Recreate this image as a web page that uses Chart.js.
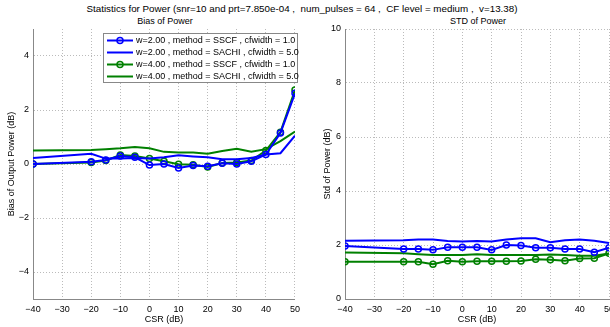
<!DOCTYPE html>
<html>
<head>
<meta charset="utf-8">
<script src="https://cdn.jsdelivr.net/npm/chart.js@4.4.1/dist/chart.umd.min.js"></script>
<style>
body { margin: 0; width: 610px; height: 327px; overflow: hidden; background: #fff; position: relative; font-family: "Liberation Sans", Arial, sans-serif; }
.t { position: absolute; font-size: 9px; color: #000; white-space: pre; transform: translateX(-50%); line-height: 10px; }
canvas { position: absolute; top: 0; }
</style>
</head>
<body>
<div class="t" style="left:302px;top:4px;font-size:9.8px">Statistics for Power (snr=10 and prt=7.850e-04 ,  num_pulses = 64 ,  CF level = medium ,  v=13.38)</div>
<div class="t" style="left:165px;top:16px">Bias of Power</div>
<div class="t" style="left:478px;top:16px">STD of Power</div>
<canvas id="bias" width="305" height="327" style="left:0"></canvas>
<canvas id="std" width="325" height="327" style="left:305px"></canvas>
<script>
// CSR values (dB)
var csr = [-40, -20, -15, -10, -5, 0, 5, 10, 15, 20, 25, 30, 35, 40, 45, 50];

var labels = [
	"w=2.00 , method = SSCF , cfwidth = 1.0",
	"w=2.00 , method = SACHI , cfwidth = 5.0",
	"w=4.00 , method = SSCF , cfwidth = 1.0",
	"w=4.00 , method = SACHI , cfwidth = 5.0"
];

// bias of output power (dB)
var biasSSCF2  = [0.0, 0.08, 0.15, 0.3, 0.25, -0.04, 0.0, -0.15, -0.06, -0.08, 0.03, 0.0, 0.1, 0.35, 1.15, 2.62];
var biasSACHI2 = [0.22, 0.38, 0.2, 0.2, 0.22, 0.2, 0.25, 0.32, 0.28, 0.25, 0.18, 0.18, 0.22, 0.35, 0.4, 1.05];
var biasSSCF4  = [0.0, 0.06, 0.13, 0.33, 0.3, 0.2, 0.1, -0.01, -0.03, -0.11, 0.04, 0.06, 0.13, 0.5, 1.18, 2.74];
var biasSACHI4 = [0.5, 0.52, 0.55, 0.58, 0.63, 0.58, 0.45, 0.43, 0.43, 0.38, 0.48, 0.56, 0.45, 0.55, 0.85, 1.2];

// std of power (dB)
var stdSSCF2  = [1.96, 1.85, 1.85, 1.82, 1.92, 1.92, 1.92, 1.82, 2.0, 1.98, 1.9, 1.9, 1.85, 1.85, 1.73, 1.9];
var stdSACHI2 = [2.16, 2.18, 2.2, 2.2, 2.15, 2.13, 2.15, 2.13, 2.2, 2.25, 2.25, 2.1, 2.18, 2.2, 2.16, 2.07];
var stdSSCF4  = [1.38, 1.38, 1.38, 1.29, 1.42, 1.38, 1.4, 1.4, 1.4, 1.41, 1.47, 1.45, 1.42, 1.5, 1.51, 1.69];
var stdSACHI4 = [1.72, 1.69, 1.66, 1.63, 1.63, 1.63, 1.66, 1.63, 1.63, 1.63, 1.63, 1.65, 1.63, 1.6, 1.6, 1.69];

var xTicks = [-40, -30, -20, -10, 0, 10, 20, 30, 40, 50];
var biasTicks = [-4, -2, 0, 2, 4];
var stdTicks = [0, 2, 4, 6, 8, 10];

var BLUE = "#0000ff";
var GREEN = "#008000";
var FONT = { family: "'Liberation Sans', Arial, sans-serif", size: 9 };

function pts(ys) {
	return csr.map(function(x, i) { return { x: x, y: ys[i] }; });
}

function makeSets(a, b, c, d) {
	var cols = [BLUE, BLUE, GREEN, GREEN];
	return [a, b, c, d].map(function(ys, i) {
		var marker = (i % 2 == 0);
		return {
			label: labels[i],
			data: pts(ys),
			borderColor: cols[i],
			backgroundColor: "rgba(0,0,0,0)",
			borderWidth: 2,
			pointRadius: marker ? 3 : 0,
			pointBorderWidth: 1.5,
			pointBackgroundColor: "rgba(0,0,0,0)",
			tension: 0
		};
	});
}

function minus(v) {
	return String(v).replace("-", "\u2212");
}

// draws the boxed legend in the upper right of the bias plot
var legendBox = {
	id: "legendBox",
	afterDraw: function(chart) {
		if (chart.canvas.id != "bias") return;
		var ctx = chart.ctx;
		var x0 = 103, y0 = 33, w = 194, h = 49;
		ctx.save();
		ctx.fillStyle = "#fff";
		ctx.fillRect(x0, y0, w, h);
		ctx.strokeStyle = "#888";
		ctx.lineWidth = 1;
		ctx.strokeRect(x0 + 0.5, y0 + 0.5, w, h);
		chart.data.datasets.forEach(function(ds, i) {
			var y = y0 + 7.5 + i * 12;
			ctx.strokeStyle = ds.borderColor;
			ctx.lineWidth = 2;
			ctx.beginPath();
			ctx.moveTo(x0 + 4, y);
			ctx.lineTo(x0 + 30, y);
			ctx.stroke();
			if (ds.pointRadius > 0) {
				ctx.lineWidth = 1.5;
				ctx.beginPath();
				ctx.arc(x0 + 17, y, 3, 0, 2 * Math.PI);
				ctx.stroke();
			}
			ctx.fillStyle = "#000";
			ctx.font = "9px 'Liberation Sans', Arial, sans-serif";
			ctx.textBaseline = "middle";
			ctx.fillText(ds.label, x0 + 33, y);
		});
		ctx.restore();
	}
};

function makeChart(id, sets, ymin, ymax, yticks, ytitle, padRight, yWidth, titleGap) {
	var ctx = document.getElementById(id).getContext("2d");
	return new Chart(ctx, {
		type: "line",
		data: { datasets: sets },
		plugins: [legendBox],
		options: {
			responsive: false,
			animation: false,
			layout: { padding: { top: 29, right: padRight, left: 0, bottom: 0 } },
			plugins: { legend: { display: false }, tooltip: { enabled: false } },
			scales: {
				x: {
					type: "linear",
					min: -40,
					max: 50,
					afterBuildTicks: function(s) { s.ticks = xTicks.map(function(v) { return { value: v }; }); },
					afterFit: function(s) { s.height = 28; },
					ticks: { font: FONT, color: "#000", padding: 5, maxRotation: 0, callback: minus },
					grid: { color: "#bbb", drawTicks: false },
					border: { display: true, color: "#888", width: 1, dash: [1, 2] },
					title: { display: true, text: "CSR (dB)", font: FONT, color: "#000", padding: { top: 0, bottom: 2 } }
				},
				y: {
					min: ymin,
					max: ymax,
					afterBuildTicks: function(s) { s.ticks = yticks.map(function(v) { return { value: v }; }); },
					afterFit: function(s) { s.width = yWidth; },
					ticks: { font: FONT, color: "#000", padding: 4, callback: minus },
					grid: { color: "#bbb", drawTicks: false },
					border: { display: true, color: "#888", width: 1, dash: [1, 2] },
					title: { display: true, text: ytitle, font: FONT, color: "#000", padding: { top: titleGap, bottom: 0 } }
				}
			}
		}
	});
}

window.onload = function() {
	makeChart("bias", makeSets(biasSSCF2, biasSACHI2, biasSSCF4, biasSACHI4), -5, 5, biasTicks, "Bias of Output Power (dB)", 7, 33, 6);
	makeChart("std", makeSets(stdSSCF2, stdSACHI2, stdSSCF4, stdSACHI4), 0, 10, stdTicks, "Std of Power (dB)", 21, 40, 17);
};
</script>
</body>
</html>
